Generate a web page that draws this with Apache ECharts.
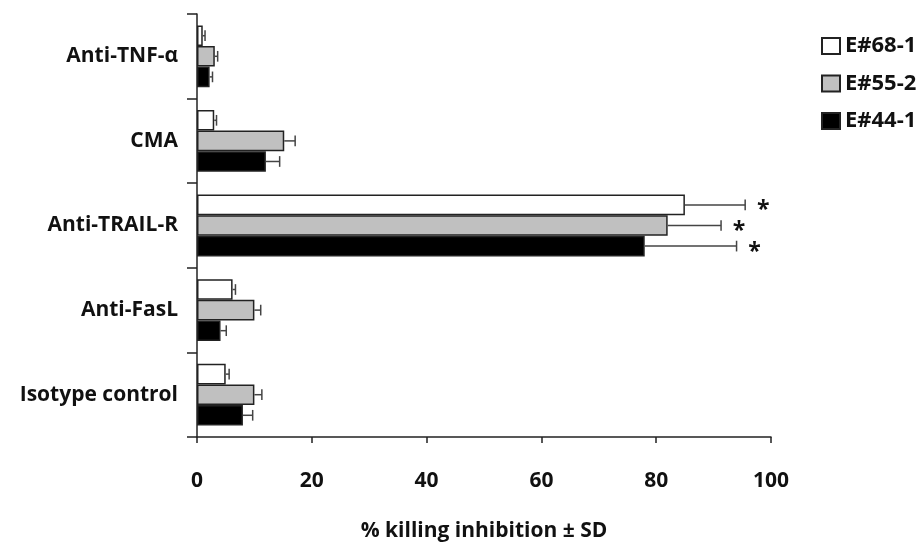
<!DOCTYPE html>
<html>
<head>
<meta charset="utf-8">
<script src="https://cdn.jsdelivr.net/npm/echarts@6/dist/echarts.min.js"></script>
<style>
  html, body { margin: 0; padding: 0; background: #fff; }
  #chart { width: 923px; height: 547px; }
</style>
</head>
<body>
<div id="chart"></div>
<script>
// Treatments, listed top to bottom
const categories = ['Anti-TNF-α', 'CMA', 'Anti-TRAIL-R', 'Anti-FasL', 'Isotype control'];

// Effector clones
const seriesNames = ['E#68-1', 'E#55-2', 'E#44-1'];

// Mean % killing inhibition per clone
const e68Mean = [1.0, 3.0, 85, 6.2, 5.0];
const e55Mean = [3.1, 15.2, 82, 10.0, 10.0];
const e44Mean = [2.2, 12.0, 78, 4.1, 8.0];

// Standard deviations
const e68Sd = [0.4, 0.4, 10.5, 0.5, 0.6];
const e55Sd = [0.5, 1.9, 9.3, 1.1, 1.3];
const e44Sd = [0.5, 2.4, 16.0, 1.0, 1.7];

// Significance marks
const e68Sig = ['', '', '*', '', ''];
const e55Sig = ['', '', '*', '', ''];
const e44Sig = ['', '', '*', '', ''];

// X axis ticks
const xTicks = [0, 20, 40, 60, 80, 100];

const means = [e68Mean, e55Mean, e44Mean];
const sds = [e68Sd, e55Sd, e44Sd];
const sigs = [e68Sig, e55Sig, e44Sig];
const fills = ['#ffffff', '#c0c0c0', '#000000'];

const CAT_GAP = 0.27;
const FONT = '"Open Sans", sans-serif';
const labelFont = { fontFamily: FONT, fontWeight: 'bold', fontSize: 21, color: '#111' };

const chart = echarts.init(document.getElementById('chart'), null, { renderer: 'canvas' });

const barSeries = means.map((m, k) => ({
  name: seriesNames[k],
  type: 'bar',
  data: m,
  barGap: '0%',
  barCategoryGap: (CAT_GAP * 100) + '%',
  itemStyle: { color: fills[k], borderColor: '#222', borderWidth: 1.5 },
  emphasis: { disabled: true },
  z: 2
}));

// Right-hand error whiskers with a cap, plus significance star
const errSeries = means.map((m, k) => ({
  type: 'custom',
  name: seriesNames[k] + ' SD',
  data: m.map((v, i) => [i, v, sds[k][i]]),
  encode: { x: 1, y: 0 },
  z: 3,
  silent: true,
  renderItem: function (params, api) {
    const cat = api.value(0);
    const v = api.value(1);
    const sd = api.value(2);
    const base = api.coord([v, cat]);
    const band = api.size([0, 1])[1];
    const barW = band * (1 - CAT_GAP) / 3;
    const y = base[1] - band * (1 - CAT_GAP) / 2 + barW * (k + 0.5);
    const xEnd = api.coord([v + sd, cat])[0];
    const cap = barW * 0.26;
    const children = [
      { type: 'line', shape: { x1: base[0], y1: y, x2: xEnd, y2: y }, style: { stroke: '#444', lineWidth: 1.5 } },
      { type: 'line', shape: { x1: xEnd, y1: y - cap, x2: xEnd, y2: y + cap }, style: { stroke: '#444', lineWidth: 1.5 } }
    ];
    const mark = sigs[k][cat];
    if (mark) {
      children.push({
        type: 'text',
        style: {
          text: mark, x: xEnd + 18, y: y + 6,
          fill: '#111', font: 'bold 23px ' + FONT,
          align: 'center', verticalAlign: 'middle'
        }
      });
    }
    return { type: 'group', children: children };
  }
}));

chart.setOption({
  animation: false,
  backgroundColor: '#fff',
  grid: { left: 197, right: 152, top: 14, bottom: 104, containLabel: false },
  legend: {
    data: seriesNames,
    orient: 'vertical',
    left: 816,
    top: 30,
    padding: 5,
    itemWidth: 18,
    itemHeight: 16,
    itemGap: 15.5,
    icon: 'rect',
    textStyle: Object.assign({}, labelFont, { fontSize: 22, lineHeight: 16 }),
    selectedMode: false
  },
  xAxis: {
    type: 'value',
    min: xTicks[0],
    max: xTicks[xTicks.length - 1],
    interval: xTicks[1] - xTicks[0],
    splitLine: { show: false },
    axisLine: { show: true, lineStyle: { color: '#222', width: 1.5 } },
    axisTick: { show: true, length: 6, lineStyle: { color: '#222', width: 1.5 } },
    axisLabel: Object.assign({}, labelFont, { fontSize: 21, margin: 34 }),
    name: '% killing inhibition ± SD',
    nameLocation: 'middle',
    nameGap: 84,
    nameTextStyle: Object.assign({}, labelFont, { fontSize: 21 })
  },
  yAxis: {
    type: 'category',
    data: categories,
    inverse: true,
    axisLine: { show: true, lineStyle: { color: '#222', width: 1.5 } },
    axisTick: { show: true, length: 10, interval: 0, lineStyle: { color: '#222', width: 1.5 } },
    axisLabel: Object.assign({}, labelFont, { fontSize: 21, margin: 19, interval: 0 })
  },
  series: barSeries.concat(errSeries)
});
</script>
</body>
</html>
